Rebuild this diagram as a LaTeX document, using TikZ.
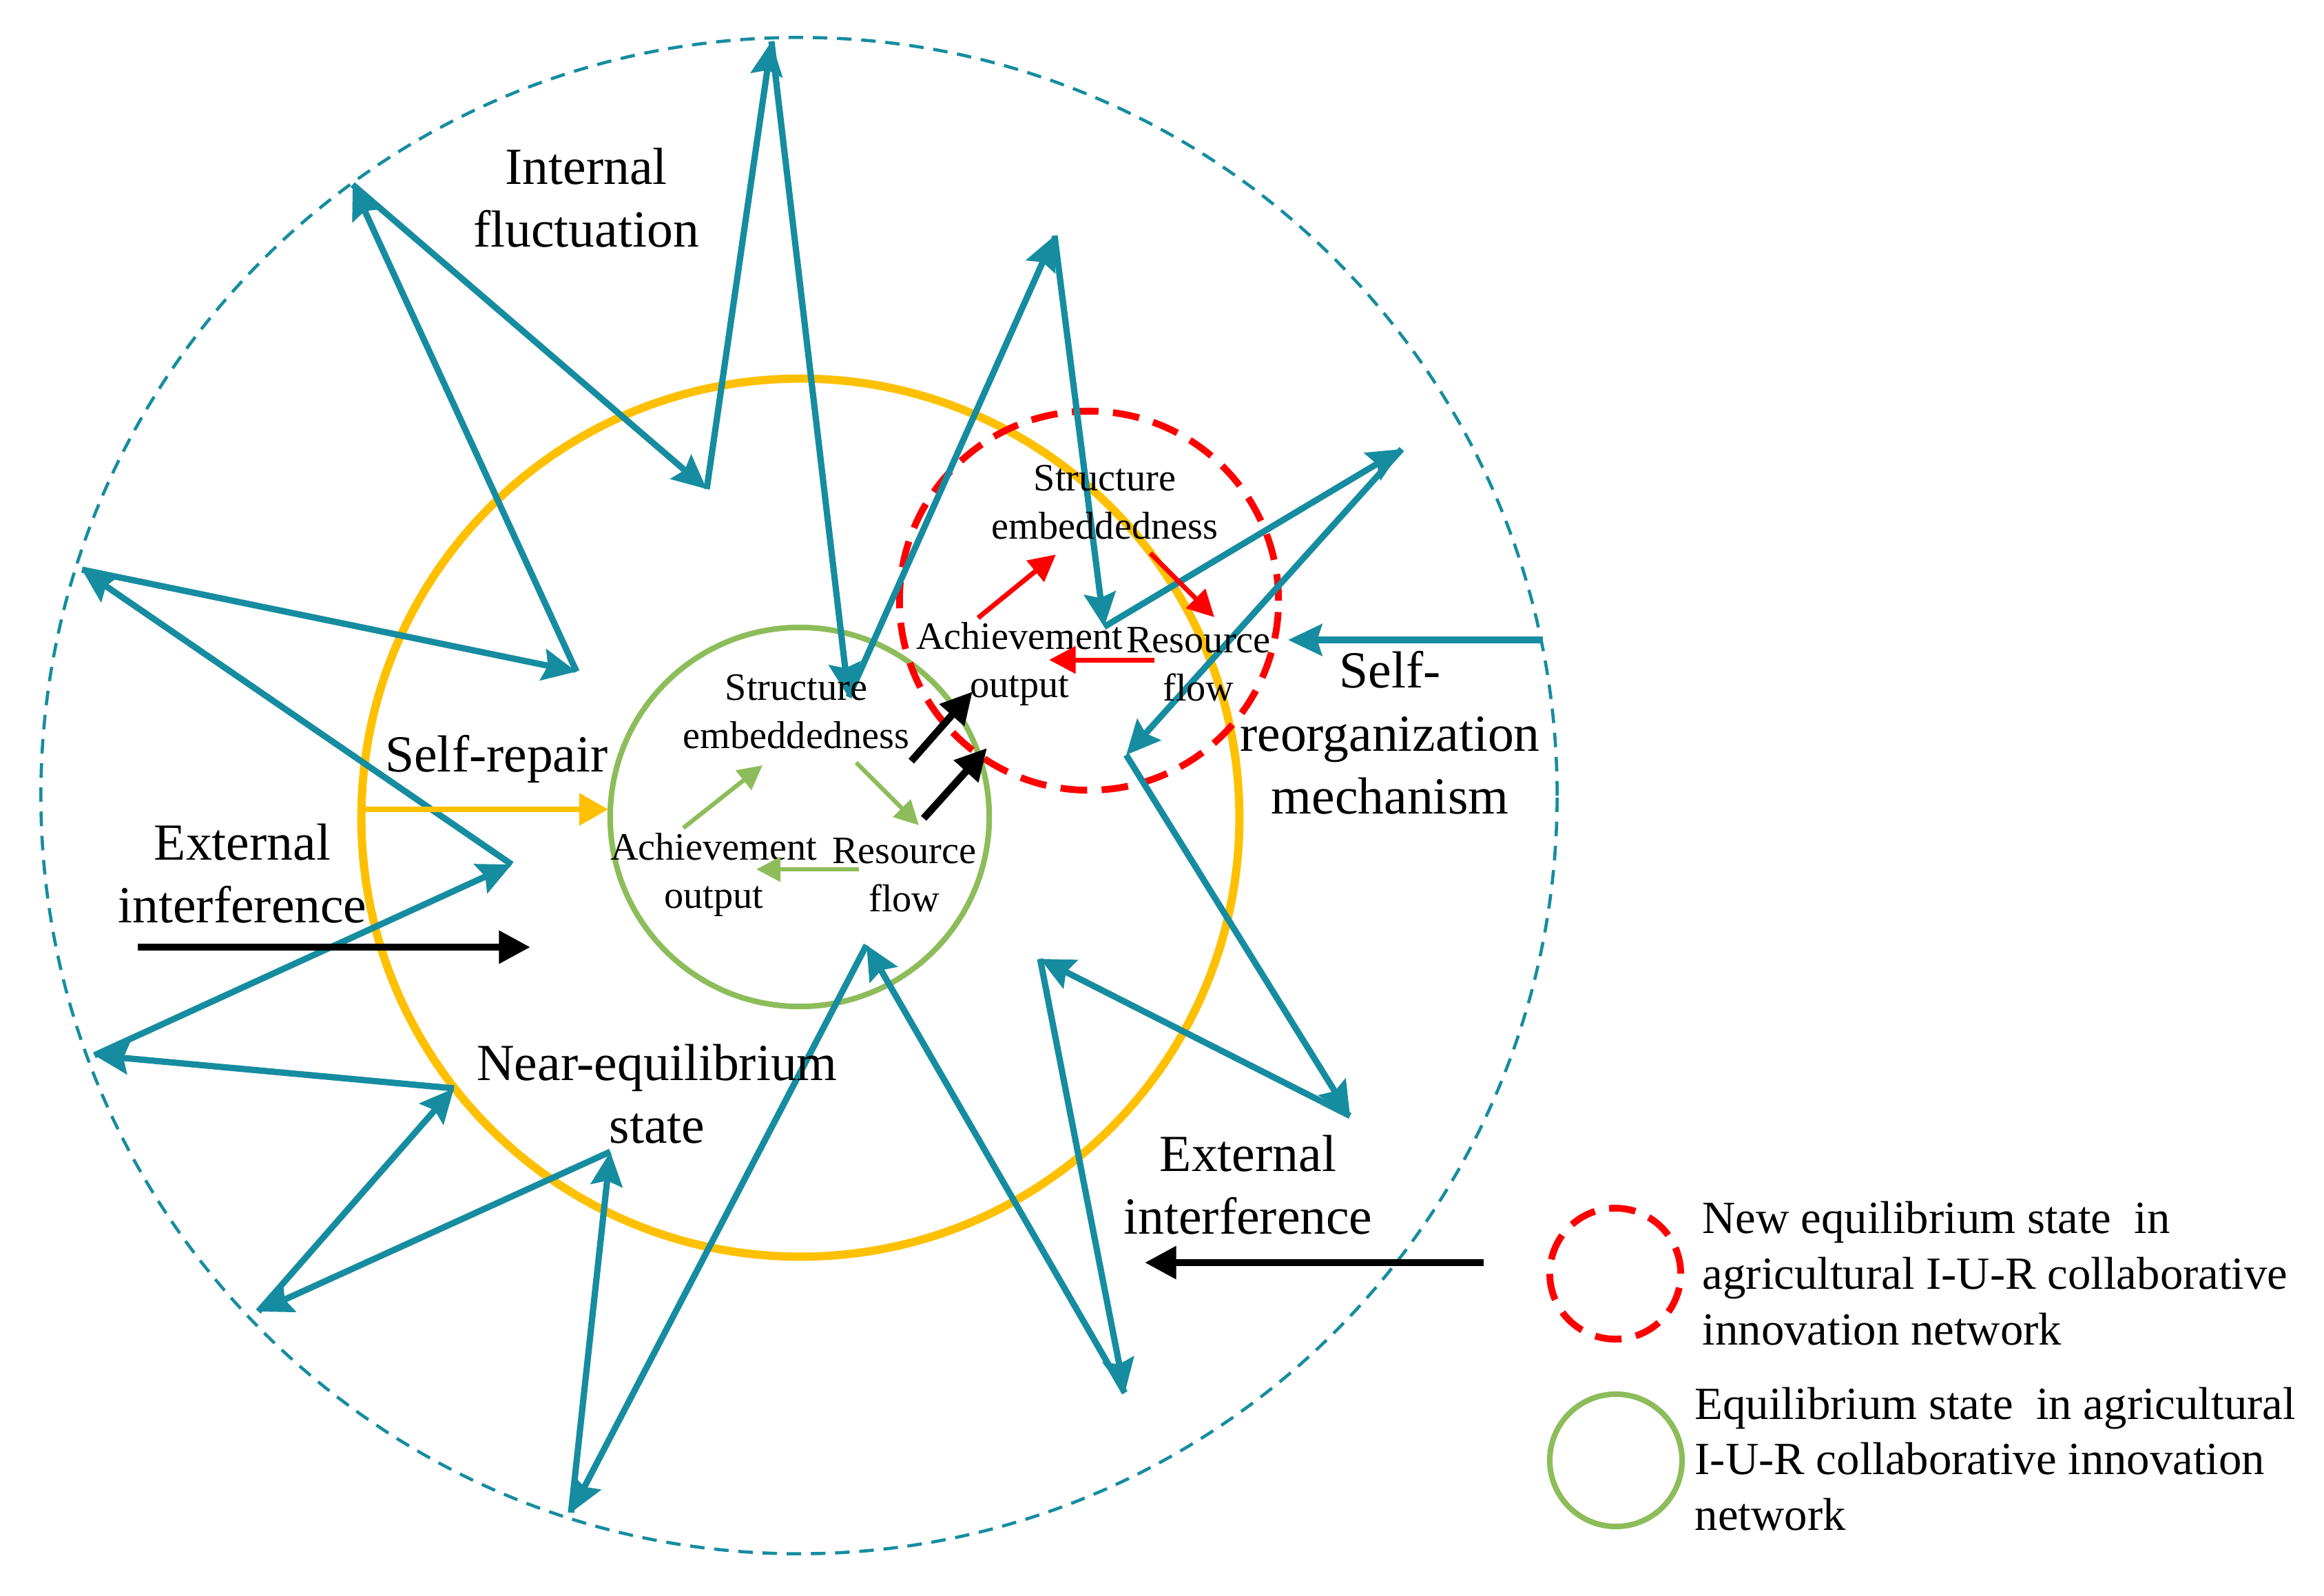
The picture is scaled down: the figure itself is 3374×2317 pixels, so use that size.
\documentclass[tikz,border=0pt]{standalone}
\usepackage{fontspec}
\setmainfont{Liberation Serif}
\usetikzlibrary{arrows.meta}

\definecolor{fluxteal}{RGB}{22,140,160}
\definecolor{ringyellow}{RGB}{255,192,0}
\definecolor{ringgreen}{RGB}{141,188,90}
\definecolor{ringred}{RGB}{255,0,0}

\begin{document}
\begin{tikzpicture}[
  x=0.01cm, y=-0.01cm,
  flux/.style={fluxteal, line width=2.6pt, -{Stealth[length=14pt,width=13pt,inset=2pt]}},
  bigtext/.style={font=\fontsize{21.5}{26}\selectfont, align=center, inner sep=0pt},
  smalltext/.style={font=\fontsize{16}{20}\selectfont, align=center, inner sep=0pt},
  keytext/.style={font=\fontsize{19}{23}\selectfont, align=left, anchor=west, inner sep=0pt},
  greenflow/.style={ringgreen, line width=1.8pt, -{Triangle[length=10pt,width=10pt]}},
  redflow/.style={ringred, line width=2pt, -{Triangle[length=11pt,width=11pt]}},
  push/.style={black, line width=3pt, -{Triangle[length=13pt,width=13pt]}},
  newring/.style={ringred, line width=2.8pt, dash pattern=on 11pt off 6pt},
  eqring/.style={ringgreen, line width=2.3pt},
]
\useasboundingbox (0,0) rectangle (3374,2317);

% rings
\draw[fluxteal, line width=1.3pt, dash pattern=on 6pt off 4pt] (1160,1155) circle[radius=11cm];
\draw[ringyellow, line width=3.4pt] (1162,1187) circle[radius=6.37cm];
\draw[eqring] (1161,1186) circle[radius=2.75cm];
\draw[newring] (1581,872) circle[radius=2.75cm];

% internal fluctuation star
\foreach \n/\x/\y in {1/1026/710, 2/1120/60, 3/1232/1012, 4/1531/342, 5/1603/910,
  6/2035/652, 7/1635/1096, 8/1960/1620, 9/1510/1392, 10/1633/2022,
  11/1258/1372, 12/829/2196, 13/886/1672, 14/375/1904, 15/659/1580,
  16/137/1532, 17/743/1255, 18/119/827, 19/837/975, 20/512/268}
  \coordinate (v\n) at (\x,\y);
\foreach \n [remember=\n as \m (initially 20)] in {1,...,20}
  \draw[flux] (v\m) -- (v\n);

% labels
\node[bigtext] (internal) at (851,287) {Internal\\fluctuation};
\node[bigtext] (repair) at (721,1102) {Self-repair};
\node[bigtext] (extleft) at (352,1268) {External\\interference};
\node[bigtext] (neareq) at (954,1588) {Near-equilibrium\\state};
\node[bigtext] (reorg) at (2018,1064) {Self-\\reorganization\\mechanism};
\node[bigtext] (extright) at (1812,1720) {External\\interference};

% equilibrium cycle
\node[smalltext] (gstruct) at (1156,1033) {Structure\\embeddedness};
\node[smalltext] (gach) at (1036,1270) {Achievement\\output};
\node[smalltext] (gres) at (1313,1270) {Resource\\flow};
\coordinate (ga) at (992,1202);  \coordinate (gs) at (1107,1111);
\coordinate (gs2) at (1243,1107); \coordinate (gr) at (1334,1198);
\coordinate (gr2) at (1247,1262); \coordinate (ga2) at (1098,1262);
\draw[greenflow] (ga) -- (gs);
\draw[greenflow] (gs2) -- (gr);
\draw[greenflow] (gr2) -- (ga2);

% new equilibrium cycle
\node[smalltext] (rstruct) at (1604,729) {Structure\\embeddedness};
\node[smalltext] (rach) at (1480,964) {Achievement\\output};
\node[smalltext] (rres) at (1740,964) {Resource\\flow};
\coordinate (ra) at (1420,897);  \coordinate (rs) at (1533,805);
\coordinate (rs2) at (1670,803); \coordinate (rr) at (1763,896);
\coordinate (rr2) at (1676,958); \coordinate (ra2) at (1523,958);
\draw[redflow] (ra) -- (rs);
\draw[redflow] (rs2) -- (rr);
\draw[redflow] (rr2) -- (ra2);

% shifts between states
\coordinate (jump1) at (1323,1105); \coordinate (land1) at (1412,1004);
\coordinate (jump2) at (1341,1188); \coordinate (land2) at (1433,1086);
\draw[push] (jump1) -- (land1);
\draw[push] (jump2) -- (land2);

% outside forces
\coordinate (extL) at (200,1375); \coordinate (extLend) at (770,1375);
\coordinate (extR) at (2154,1833); \coordinate (extRend) at (1662,1833);
\draw[push] (extL) -- (extLend);
\draw[push] (extR) -- (extRend);
\coordinate (repL) at (527,1175); \coordinate (repR) at (883,1175);
\draw[ringyellow, line width=2.2pt, -{Triangle[length=12pt,width=13pt]}] (repL) -- (repR);
\coordinate (orgR) at (2240,929); \coordinate (orgL) at (1870,929);
\draw[flux] (orgR) -- (orgL);

% key
\draw[newring] (2345,1849) circle[radius=0.95cm];
\draw[eqring] (2346,2120) circle[radius=0.96cm];
\node[keytext] (keynew) at (2471,1849) {New equilibrium state\ \ in\\agricultural I-U-R collaborative\\innovation network};
\node[keytext] (keyeq) at (2460,2118) {Equilibrium state\ \ in agricultural\\I-U-R collaborative innovation\\network};
\end{tikzpicture}
\end{document}
